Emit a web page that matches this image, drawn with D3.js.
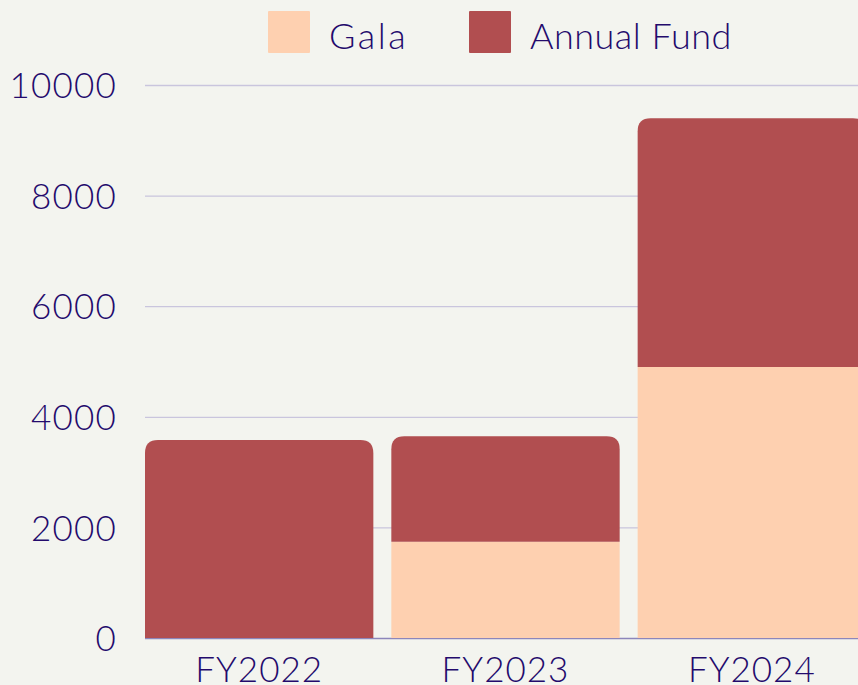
<!DOCTYPE html>
<html>
<head>
<meta charset="utf-8">
<script src="https://cdn.jsdelivr.net/npm/d3@7"></script>
<style>
  html, body { margin: 0; padding: 0; background: #f3f4ef; overflow: hidden; }
  svg text { font-family: "Lato", "Noto Sans", sans-serif; fill: #230a6c; }
</style>
</head>
<body>
<svg class="chart"></svg>
<script>
const svgWidth = 858;
const svgHeight = 685;

// data
const years = ["FY2022", "FY2023", "FY2024"];
const gala = [0, 1740, 4900];
const annualFund = [3580, 1910, 4500];
const seriesNames = ["Gala", "Annual Fund"];
const yTicks = [0, 2000, 4000, 6000, 8000, 10000];

const colours = ["#fed0b0", "#b14e50"];

var margin = { top: 85, right: -8, bottom: 47, left: 145 };
var innerWidth = svgWidth - margin.left - margin.right;
var innerHeight = svgHeight - margin.top - margin.bottom;

const svg = d3.select(".chart")
  .attr("width", svgWidth)
  .attr("height", svgHeight);

var data = years.map(function(y, i) {
  return { group: y, "Gala": gala[i], "Annual Fund": annualFund[i] };
});

var graph = svg.append("g")
  .attr("transform", "translate(" + margin.left + "," + margin.top + ")");

var x = d3.scaleBand()
  .domain(years)
  .range([0, innerWidth])
  .paddingInner(0.073)
  .paddingOuter(0);

var y = d3.scaleLinear()
  .domain([0, 10000])
  .range([innerHeight, 0]);

// gridlines
graph.append("g")
  .selectAll("line")
  .data(yTicks)
  .enter().append("line")
    .attr("x1", 0)
    .attr("x2", svgWidth)
    .attr("y1", function(d) { return y(d) + 0.5; })
    .attr("y2", function(d) { return y(d) + 0.5; })
    .attr("stroke", function(d) { return d === 0 ? "#8d86bb" : "#c9c5dd"; })
    .attr("stroke-width", 1.3);

// y tick labels
var yAxis = graph.append("g")
  .call(d3.axisLeft(y).tickValues(yTicks).tickSize(0).tickPadding(28).tickFormat(d3.format("d")));
yAxis.select(".domain").remove();
yAxis.selectAll("text")
  .attr("font-size", 35)
  .attr("font-weight", 300)
  .attr("letter-spacing", 1.2)
  .attr("dy", "0.36em")
  .style("font-family", null);

// x tick labels
var xAxis = graph.append("g")
  .attr("transform", "translate(0," + innerHeight + ")")
  .call(d3.axisBottom(x).tickSize(0).tickPadding(19));
xAxis.select(".domain").remove();
xAxis.selectAll("text")
  .attr("font-size", 35)
  .attr("font-weight", 300)
  .attr("letter-spacing", 1)
  .style("font-family", null);

var stackedData = d3.stack().keys(seriesNames)(data);
var color = d3.scaleOrdinal().domain(seriesNames).range(colours);

var r = 13;
function barPath(d, rounded) {
  var x0 = x(d.data.group), x1 = x0 + x.bandwidth();
  var yt = y(d[1]), yb = y(d[0]);
  if (yb - yt <= 0) return "";
  if (!rounded) return "M" + x0 + "," + yb + "V" + yt + "H" + x1 + "V" + yb + "Z";
  var rr = Math.min(r, yb - yt);
  return "M" + x0 + "," + yb +
    "V" + (yt + rr) +
    "Q" + x0 + "," + yt + " " + (x0 + rr) + "," + yt +
    "H" + (x1 - rr) +
    "Q" + x1 + "," + yt + " " + x1 + "," + (yt + rr) +
    "V" + yb + "Z";
}

graph.append("g")
  .selectAll("g")
  .data(stackedData)
  .enter().append("g")
    .attr("fill", function(d) { return color(d.key); })
    .selectAll("path")
    .data(function(d) { return d.map(function(v) { v.key = d.key; return v; }); })
    .enter().append("path")
      .attr("d", function(d) { return barPath(d, d.key === "Annual Fund"); });

// legend
var legendItems = [
  { name: "Gala", x: 268, tx: 329, ls: 2.5 },
  { name: "Annual Fund", x: 469, tx: 530, ls: 0.5 }
];
var legend = svg.append("g");
legend.selectAll("rect")
  .data(legendItems)
  .enter().append("rect")
    .attr("x", function(d) { return d.x; })
    .attr("y", 11)
    .attr("width", 42)
    .attr("height", 42)
    .attr("rx", 1)
    .attr("fill", function(d) { return color(d.name); });
legend.selectAll("text")
  .data(legendItems)
  .enter().append("text")
    .attr("x", function(d) { return d.tx; })
    .attr("y", 49)
    .attr("font-size", 36)
    .attr("font-weight", 300)
    .attr("letter-spacing", function(d) { return d.ls; })
    .text(function(d) { return d.name; });
</script>
</body>
</html>
